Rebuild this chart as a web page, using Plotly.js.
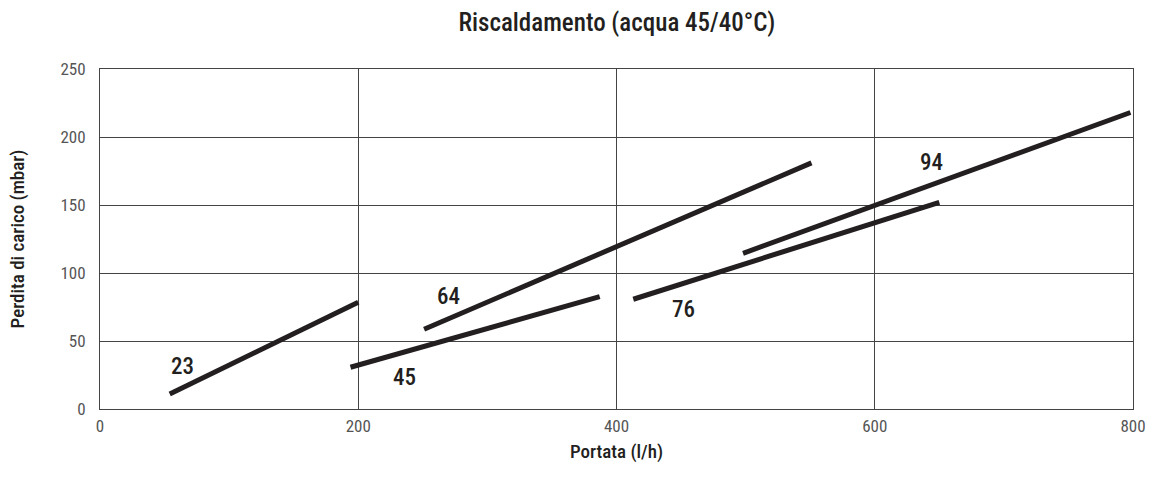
<!DOCTYPE html>
<html>
<head>
<meta charset="utf-8">
<script src="https://cdn.plot.ly/plotly-3.0.1.min.js"></script>
<style>html,body{margin:0;padding:0;background:#fff;}#chart{width:1153px;height:486px;}</style>
</head>
<body>
<div id="chart"></div>
<script>
// Series: model name, flow (l/h) and pressure drop (mbar)
const seriesNames = ["23", "45", "64", "76", "94"];
const flowX = [
  [54, 200],
  [194, 387],
  [251, 551],
  [413, 650],
  [498, 798]
];
const dropY = [
  [11, 78.5],
  [30.7, 82.6],
  [58.6, 181],
  [80.7, 152],
  [114.5, 218]
];
// Label positions for each series (data coordinates)
const labelX = [64, 236, 270, 452, 644];
const labelY = [31.5, 23.5, 82.5, 73, 181.5];

const xTicks = [0, 200, 400, 600, 800];
const yTicks = [0, 50, 100, 150, 200, 250];

const fontFam = "'Liberation Sans Narrow', 'Roboto Condensed', 'Liberation Sans', Arial, sans-serif";

const traces = seriesNames.map((n, i) => ({
  type: 'scatter', mode: 'lines', name: n,
  x: flowX[i], y: dropY[i],
  line: {color: '#231f20', width: 5},
  hoverinfo: 'skip', showlegend: false
}));

const annotations = seriesNames.map((n, i) => ({
  x: labelX[i], y: labelY[i], xref: 'x', yref: 'y',
  text: n, showarrow: false,
  font: {family: fontFam, size: 23, color: '#231f20', weight: 500}
}));

const layout = {
  width: 1153, height: 486,
  margin: {l: 100, r: 20, t: 69, b: 77},
  paper_bgcolor: '#fff', plot_bgcolor: '#fff',
  title: {text: 'Riscaldamento (acqua 45/40°C)', x: 0.535, xanchor: 'center', y: 0.955, yanchor: 'middle',
          font: {family: fontFam, size: 25, color: '#231f20', weight: 500}},
  xaxis: {
    range: [0, 800], tickvals: xTicks, ticktext: xTicks.map(String),
    showgrid: true, gridcolor: '#444', gridwidth: 1,
    showline: true, linecolor: '#444', linewidth: 1, mirror: true,
    zeroline: false, ticks: '', ticklen: 0, ticklabelstandoff: 2,
    tickfont: {family: fontFam, size: 17, color: '#555'},
    title: {text: 'Portata (l/h)', standoff: 9, font: {family: fontFam, size: 19, color: '#231f20', weight: 500}}
  },
  yaxis: {
    range: [0, 250], tickvals: yTicks, ticktext: yTicks.map(String),
    showgrid: true, gridcolor: '#444', gridwidth: 1,
    showline: true, linecolor: '#444', linewidth: 1, mirror: true,
    zeroline: false, ticks: '', ticklen: 0, ticklabelstandoff: 10,
    tickfont: {family: fontFam, size: 17, color: '#555'},
    title: {text: 'Perdita di carico (mbar)', standoff: 30, font: {family: fontFam, size: 19, color: '#231f20', weight: 500}}
  },
  annotations: annotations
};

Plotly.newPlot('chart', traces, layout, {displayModeBar: false, staticPlot: true});
</script>
</body>
</html>
